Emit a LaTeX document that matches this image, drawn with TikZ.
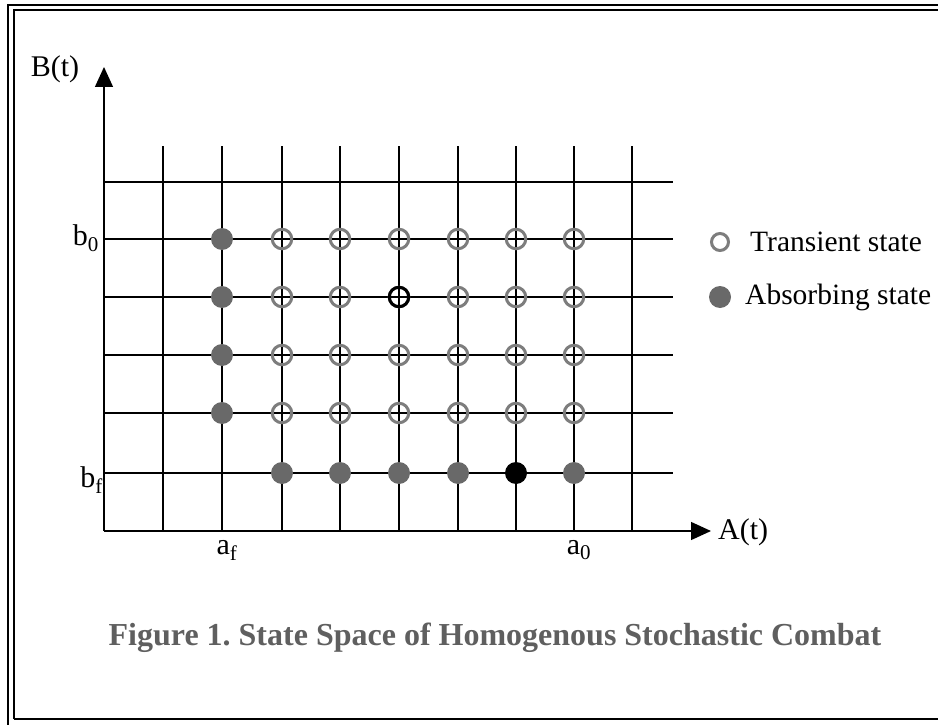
\documentclass[tikz,border=0pt]{standalone}
\usepackage{fontspec}
\setmainfont{Liberation Serif}
\usetikzlibrary{arrows.meta}
\definecolor{tgray}{RGB}{125,125,125}
\definecolor{agray}{RGB}{105,105,105}
\definecolor{capgray}{RGB}{95,95,95}
\begin{document}
\begin{tikzpicture}[x=1pt,y=-1pt,
  gridline/.style={black, line width=1.1pt},
  axisline/.style={black, line width=1.4pt},
  frameline/.style={black, line width=1.2pt},
  transient/.style={circle, draw=tgray, line width=3pt, minimum size=19.5pt, inner sep=0pt},
  absorbing/.style={circle, fill=agray, minimum size=22pt, inner sep=0pt},
  blackabs/.style={circle, fill=black, minimum size=22pt, inner sep=0pt},
  blacktrans/.style={circle, draw=black, line width=3pt, minimum size=19.5pt, inner sep=0pt},
  lbl/.style={font=\fontsize{30}{34}\selectfont, inner sep=0pt},
  leg/.style={font=\fontsize{29.5}{34}\selectfont, inner sep=0pt, anchor=west},
  captext/.style={font=\fontsize{32}{36}\selectfont\bfseries, text=capgray, inner sep=0pt},
  axtip/.style={-{Triangle[length=20pt,width=18pt]}}
]
\useasboundingbox (0,0) rectangle (938,725);
% frame
\draw[frameline] (8,725) -- (8,5) -- (938,5);
\draw[frameline] (14,719) -- (14,10) -- (938,10);
\draw[frameline] (14,719) -- (938,719);
% coordinates
\coordinate (o) at (104,531);
\coordinate (ytop) at (104,67);
\coordinate (xend) at (711,531);
% grid
\foreach \x in {163,222,282,340,399,458,516,574,632}
  \draw[gridline] (\x,146) -- (\x,531);
\foreach \y in {182,239,297,355,413,473}
  \draw[gridline] (104,\y) -- (673,\y);
% axes
\draw[axisline, axtip] (o) -- (ytop);
\draw[axisline, axtip] (o) -- (xend);
% absorbing column a_f
\foreach \y [count=\j] in {239,297,355,413}
  \node[absorbing] (abs-\j) at (222,\y) {};
% transient states
\foreach \y [count=\j] in {239,297,355,413}
  \foreach \x [count=\i] in {282,340,399,458,516,574}
    \node[transient] (tr-\i-\j) at (\x,\y) {};
\node[blacktrans] (cur) at (399,297) {};
% bottom row b_f
\foreach \x [count=\i] in {282,340,399,458,574}
  \node[absorbing] (bf-\i) at (\x,473) {};
\node[blackabs] (bfk) at (516,473) {};
% axis labels
\node[lbl] (Bt) at (55,69) {B(t)};
\node[lbl, anchor=west] (At) at (718,532) {A(t)};
\node[lbl, anchor=east] (b0) at (99,238) {b\textsubscript{0}};
\node[lbl, anchor=east] (bfl) at (103,480) {b\textsubscript{f}};
\node[lbl, anchor=north] (af) at (227,540) {a\textsubscript{f}};
\node[lbl, anchor=north] (a0) at (579,540) {a\textsubscript{0}};
% legend
\node[transient, minimum size=17pt] (legt) at (720,242) {};
\node[leg] (legtt) at (750,242) {Transient state};
\node[absorbing] (lega) at (720,297) {};
\node[leg] (legat) at (745,297) {Absorbing state};
% caption
\node[captext] (caption) at (495,638) {Figure 1.\ State Space of Homogenous Stochastic Combat};
\end{tikzpicture}
\end{document}
